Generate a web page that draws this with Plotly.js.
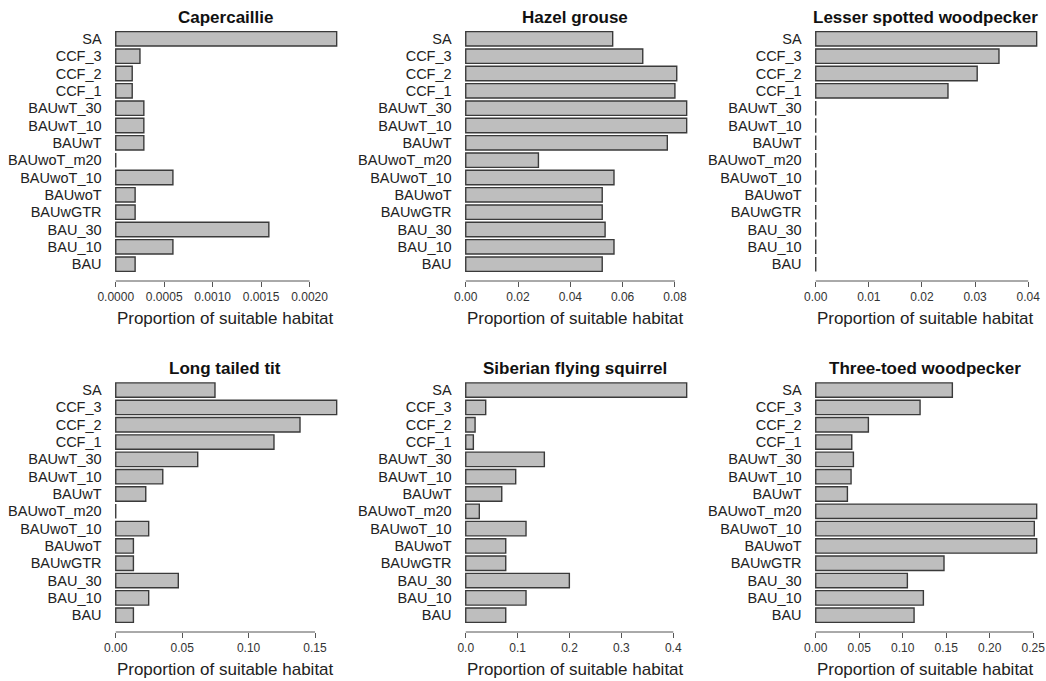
<!DOCTYPE html>
<html><head><meta charset="utf-8">
<script src="https://cdn.plot.ly/plotly-3.0.1.min.js"></script>
<style>html,body{margin:0;padding:0;background:#fff}</style>
</head><body><div id="chart" style="width:1046px;height:681px"></div>
<script>
// ---- data ----
const scenarios = ["BAU","BAU_10","BAU_30","BAUwGTR","BAUwoT","BAUwoT_10","BAUwoT_m20","BAUwT","BAUwT_10","BAUwT_30","CCF_1","CCF_2","CCF_3","SA"];
const speciesNames = ["Capercaillie","Hazel grouse","Lesser spotted woodpecker","Long tailed tit","Siberian flying squirrel","Three-toed woodpecker"];
const capercaillie   = [0.00020,0.00059,0.00158,0.00020,0.00020,0.00059,0,0.00029,0.00029,0.00029,0.00017,0.00017,0.00025,0.00228];
const hazelGrouse    = [0.0522,0.0567,0.0533,0.0522,0.0522,0.0567,0.0278,0.0771,0.0845,0.0845,0.0800,0.0807,0.0677,0.0562];
const lesserSpotted  = [0,0,0,0,0,0,0,0,0,0,0.0249,0.0304,0.0345,0.0416];
const longTailedTit  = [0.0133,0.0248,0.0471,0.0133,0.0133,0.0248,0,0.0226,0.0354,0.0617,0.1191,0.1387,0.1663,0.0747];
const flyingSquirrel = [0.0771,0.1162,0.1997,0.0771,0.0771,0.1162,0.0262,0.0694,0.0963,0.1515,0.0147,0.0180,0.0385,0.4258];
const threeToed      = [0.1130,0.1237,0.1053,0.1474,0.2539,0.2512,0.2539,0.0364,0.0406,0.0433,0.0414,0.0605,0.1199,0.1570];
const ticks1 = [0,0.0005,0.001,0.0015,0.002];   const tickText1 = ["0.0000","0.0005","0.0010","0.0015","0.0020"];
const ticks2 = [0,0.02,0.04,0.06,0.08];          const tickText2 = ["0.00","0.02","0.04","0.06","0.08"];
const ticks3 = [0,0.01,0.02,0.03,0.04];          const tickText3 = ["0.00","0.01","0.02","0.03","0.04"];
const ticks4 = [0,0.05,0.10,0.15];               const tickText4 = ["0.00","0.05","0.10","0.15"];
const ticks5 = [0,0.1,0.2,0.3,0.4];              const tickText5 = ["0.0","0.1","0.2","0.3","0.4"];
const ticks6 = [0,0.05,0.10,0.15,0.20,0.25];     const tickText6 = ["0.00","0.05","0.10","0.15","0.20","0.25"];
const xTitle = "Proportion of suitable habitat";

// ---- layout helpers ----
const W = 1046, H = 681;
const FONT = "Liberation Sans, Arial, Helvetica, sans-serif";
const panels = [
  {vals: capercaillie,   ticks: ticks1, text: tickText1},
  {vals: hazelGrouse,    ticks: ticks2, text: tickText2},
  {vals: lesserSpotted,  ticks: ticks3, text: tickText3},
  {vals: longTailedTit,  ticks: ticks4, text: tickText4},
  {vals: flyingSquirrel, ticks: ticks5, text: tickText5},
  {vals: threeToed,      ticks: ticks6, text: tickText6}
];
const colOff = [0, 350, 700];
const rowBox = [[22, 281], [373.3, 632]]; // pixel top/bottom of plot regions
const idx = scenarios.map((_, i) => i);

const traces = [], layout = {
  width: W, height: H, margin: {l:0, r:0, t:0, b:0},
  paper_bgcolor: "#fff", plot_bgcolor: "#fff", showlegend: false,
  font: {family: FONT, color: "#222"},
  annotations: [], shapes: []
};

panels.forEach((p, k) => {
  const n = k + 1, r = Math.floor(k / 3), c = k % 3;
  const xa = "xaxis" + (n === 1 ? "" : n), ya = "yaxis" + (n === 1 ? "" : n);
  const xr = "x" + (n === 1 ? "" : n), yr = "y" + (n === 1 ? "" : n);
  const M = Math.max(...p.vals);
  const L = colOff[c] + 104.6, R = colOff[c] + 345.6;
  const [T, B] = rowBox[r];
  traces.push({
    type: "bar", orientation: "h", x: p.vals, y: idx, width: 1/1.2,
    xaxis: xr, yaxis: yr,
    marker: {color: "#BEBEBE", line: {color: "#3a3a3a", width: 1.4}},
    hoverinfo: "x+text", text: scenarios, textposition: "none"
  });
  layout[xa] = {
    domain: [L / W, R / W], range: [-0.0504 * M, 1.0404 * M], anchor: yr,
    showgrid: false, zeroline: false, showline: false,
    ticks: "outside", ticklen: 5, tickwidth: 1, tickcolor: "#555",
    tickmode: "array", tickvals: p.ticks, ticktext: p.text,
    tickfont: {family: FONT, size: 12, color: "#333"},
    title: {text: xTitle, font: {family: FONT, size: 17, color: "#222"}, standoff: 8}
  };
  layout[ya] = {
    domain: [1 - B / H, 1 - T / H], range: [-0.97, 13.97], anchor: xr,
    showgrid: false, zeroline: false, showline: false, ticks: "",
    tickmode: "array", tickvals: idx, ticktext: scenarios, ticklabelstandoff: 2,
    tickfont: {family: FONT, size: 14.5, color: "#222"}
  };
  // axis line spanning first to last tick, as in the original
  layout.shapes.push({
    type: "line", xref: xr, yref: "paper",
    x0: p.ticks[0], x1: p.ticks[p.ticks.length - 1],
    y0: 1 - B / H, y1: 1 - B / H,
    line: {color: "#555", width: 1}
  });
  layout.annotations.push({
    text: "<b>" + speciesNames[k] + "</b>", xref: "paper", yref: "paper",
    x: (L + R) / 2 / W, y: 1 - (T - 4.5) / H, xanchor: "center", yanchor: "middle",
    showarrow: false, font: {family: FONT, size: 17, color: "#111"}
  });
});

Plotly.newPlot("chart", traces, layout, {staticPlot: true});
</script>
</body></html>
